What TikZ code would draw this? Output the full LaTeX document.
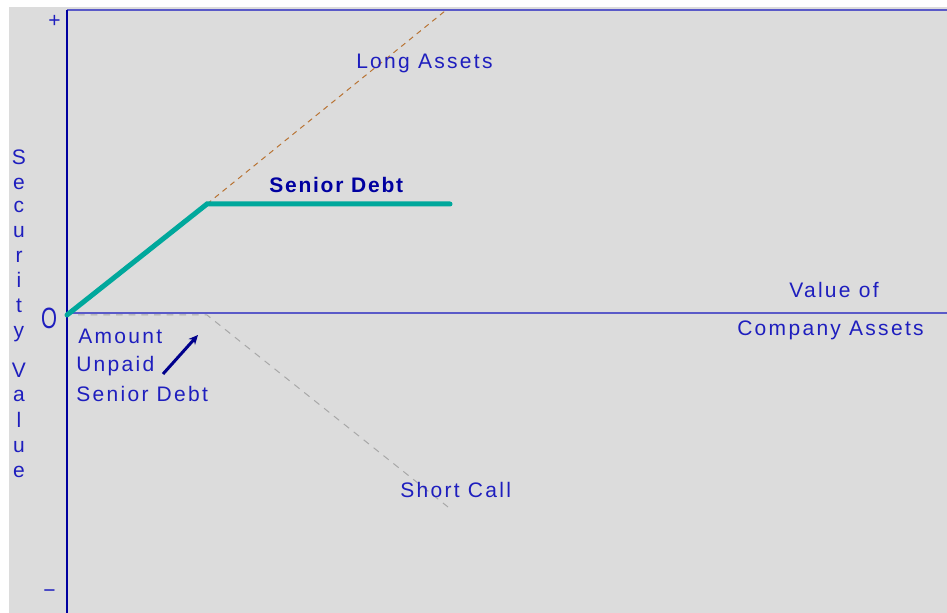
\documentclass[tikz,border=0pt]{standalone}
\usepackage{fontspec}
\setmainfont{Liberation Sans}
\newfontfamily\lblfont[LetterSpace=11]{Liberation Sans}
\newfontfamily\boldlblfont[LetterSpace=8.5]{Liberation Sans}
\usetikzlibrary{arrows.meta}

\definecolor{panelgray}{RGB}{220,220,220}
\definecolor{lblue}{RGB}{30,30,190}
\definecolor{axisdark}{RGB}{0,0,160}
\definecolor{axislight}{RGB}{90,90,200}
\definecolor{tealline}{RGB}{0,168,156}
\definecolor{copper}{RGB}{184,115,51}
\definecolor{shortgray}{RGB}{168,168,168}
\definecolor{navyarrow}{RGB}{0,0,140}
\definecolor{debtblue}{RGB}{0,0,160}

\begin{document}
\begin{tikzpicture}[x=0.75pt,y=-0.75pt,
  lbl/.style={font=\lblfont\fontsize{15.75}{18}\selectfont, text=lblue, inner sep=0pt},
  boldlbl/.style={font=\boldlblfont\bfseries\fontsize{15.75}{18}\selectfont, text=debtblue, inner sep=0pt},
  axisv/.style={draw=axisdark, line width=1.1pt},
  axish/.style={draw=axislight, line width=1.1pt},
  payoff/.style={draw=tealline, line width=3.75pt, line cap=round},
  longline/.style={draw=copper, line width=0.75pt, dash pattern=on 4pt off 3.5pt},
  shortline/.style={draw=shortgray, line width=0.75pt, dash pattern=on 5pt off 4.5pt},
  pointer/.style={draw=navyarrow, line width=2.25pt, -{Stealth[length=7pt,width=6.5pt]}}]

  % canvas
  \useasboundingbox (0,0) rectangle (947,613);
  \fill[white] (0,0) rectangle (947,613);
  \fill[panelgray] (9,7) rectangle (947,613);

  % key points of the payoff diagram
  \coordinate (origin) at (67,315);
  \coordinate (strike) at (207,204);
  \coordinate (capend) at (450,204);
  \coordinate (longend) at (445,11);
  \coordinate (axisorigin) at (67,313);
  \coordinate (shortstart) at (78,315);
  \coordinate (shortknee) at (207,315);
  \coordinate (shortend) at (448,507);
  \coordinate (ytop) at (67,10);
  \coordinate (ybottom) at (67,613);
  \coordinate (topright) at (947,10);
  \coordinate (xright) at (947,313);
  \coordinate (arrowtail) at (163,374);
  \coordinate (arrowhead) at (198,335);

  % frame and axes
  \draw[axish] (ytop) -- (topright);
  \draw[axish] (axisorigin) -- (xright);
  \draw[axisv] (ytop) -- (ybottom);

  % long assets and short call legs
  \draw[longline] (strike) -- (longend);
  \draw[shortline] (shortstart) -- (shortknee) -- (shortend);

  % senior debt payoff
  \draw[payoff] (origin) -- (strike) -- (capend);

  % pointer to the unpaid amount
  \draw[pointer] (arrowtail) -- (arrowhead);

  % labels
  \node[lbl, anchor=base west] (longlbl) at (356,69) {Long Assets};
  \node[boldlbl, anchor=base west] (debtlbl) at (269,193) {Senior Debt};
  \node[lbl, anchor=base west] (xlbl1) at (789,297) {Value of};
  \node[lbl, anchor=base west] (xlbl2) at (737,335) {Company Assets};
  \node[lbl, anchor=base west] (amt1) at (78,344) {Amount};
  \node[lbl, anchor=base west] (amt2) at (76,371) {Unpaid};
  \node[lbl, anchor=base west] (amt3) at (76,402) {Senior Debt};
  \node[lbl, anchor=base west] (shortlbl) at (400,497) {Short Call};
  \node[lbl, anchor=base, font=\lblfont\fontsize{22}{24}\selectfont] (zero) at (49,329) {\scalebox{0.7}[1]{O}};
  \node[lbl, anchor=center] (plus) at (54.5,21.5) {+};
  \node[lbl, anchor=center] (minus) at (49.5,594) {−};

  % vertical axis title, one letter per line
  \foreach \ch/\yb [count=\i] in {S/165,e/190,c/213,u/238,r/263,i/288,t/313,y/337,V/378,a/402,l/427,u/452,e/477}
    \node[lbl, anchor=base] (ytitle\i) at (19,\yb) {\ch};
\end{tikzpicture}
\end{document}
